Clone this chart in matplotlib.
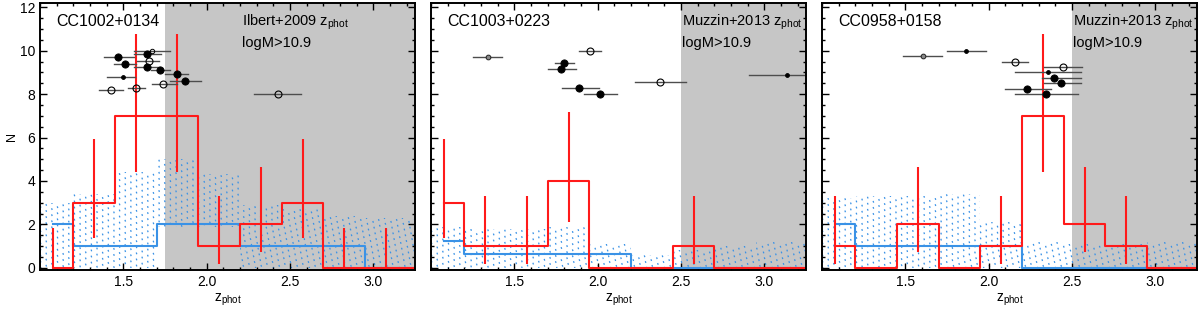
"""Three-panel z_phot histograms of cluster candidates with field band."""

import matplotlib
matplotlib.use("Agg")
import matplotlib.pyplot as plt
from matplotlib.ticker import MultipleLocator
import numpy as np

plt.rcParams["font.family"] = ["Liberation Sans", "DejaVu Sans"]

# --- data ------------------------------------------------------------------
bin_edges = [0.95, 1.2, 1.45, 1.7, 1.95, 2.2, 2.45, 2.7, 2.95, 3.2, 3.45]

names = ["CC1002+0134", "CC1003+0223", "CC0958+0158"]
catalogs = ["Ilbert+2009", "Muzzin+2013", "Muzzin+2013"]
shade_from = [1.75, 2.5, 2.5]

red_counts = [
    [0, 3, 7, 7, 1, 2, 3, 0, 0, 0],
    [3, 1, 1, 4, 0, 0, 1, 0, 0, 0],
    [1, 0, 2, 0, 1, 7, 2, 1, 0, 0],
]
nan = np.nan
red_err_lo = [
    [0, 1.37, 4.42, 4.42, 0.17, 0.71, 1.37, 0, 0, nan],
    [1.37, 0.17, 0.17, 2.09, nan, nan, 0.17, nan, nan, nan],
    [0.17, nan, 0.71, nan, 0.17, 4.42, 0.71, 0.17, nan, nan],
]
red_err_hi = [
    [1.85, 5.92, 10.77, 10.77, 3.3, 4.64, 5.92, 1.85, 1.85, nan],
    [5.92, 3.3, 3.3, 7.16, nan, nan, 3.3, nan, nan, nan],
    [3.3, nan, 4.64, nan, 3.3, 10.77, 4.64, 3.3, nan, nan],
]

blue_counts = [
    [2, 1, 1, 2, 2, 1, 1, 1, 0, 0],
    [1.25, 0.62, 0.62, 0.62, 0.62, 0, 0, 0, 0, 0],
    [2, 1, 1, 1, 1, 0, 0, 0, 0, 0],
]
band_hi = [
    [3.0, 3.4, 4.4, 5.0, 4.3, 2.9, 2.7, 2.4, 2.3, 2.3],
    [1.9, 1.8, 1.8, 1.9, 1.1, 0.6, 0.8, 1.0, 1.2, 1.2],
    [3.2, 3.3, 3.3, 3.4, 2.1, 1.2, 1.1, 1.1, 1.2, 1.2],
]
band_lo = [
    [0, 0, 0, 1.9, 1.9, 0, 0, 0, 0, 0],
    [0, 0, 0, 0, 0, 0, 0, 0, 0, 0],
    [0, 0, 0, 0, 0, 0, 0, 0, 0, 0],
]

# members: z, N position, z range, kind (F big filled, f small filled,
# O big open, o small open, g small grey)
pt_z = [
    [1.466, 1.51, 1.50, 1.428, 1.578, 1.64, 1.67, 1.654, 1.64, 1.72, 1.82,
     1.74, 1.871, 2.426],
    [1.34, 1.953, 1.80, 1.78, 1.89, 2.015, 2.376, 3.133],
    [1.603, 1.865, 2.155, 2.444, 2.353, 2.393, 2.432, 2.232, 2.343],
]
pt_y = [
    [9.71, 9.38, 8.78, 8.17, 8.30, 9.86, 10.0, 9.53, 9.25, 9.10, 8.93,
     8.48, 8.62, 8.0],
    [9.71, 10.0, 9.44, 9.14, 8.29, 8.0, 8.57, 8.87],
    [9.77, 10.0, 9.5, 9.26, 9.0, 8.75, 8.51, 8.26, 8.0],
]
pt_zlo = [
    [1.383, 1.446, 1.40, 1.356, 1.526, 1.566, 1.566, 1.58, 1.566, 1.666,
     1.75, 1.67, 1.78, 2.286],
    [1.253, 1.887, 1.744, 1.70, 1.787, 1.915, 2.226, 2.91],
    [1.486, 1.748, 2.08, 2.33, 2.155, 2.317, 2.33, 2.095, 2.155],
]
pt_zhi = [
    [1.566, 1.576, 1.57, 1.50, 1.63, 1.726, 1.78, 1.716, 1.72, 1.78,
     1.89, 1.82, 1.965, 2.564],
    [1.428, 2.02, 1.86, 1.867, 2.005, 2.117, 2.53, 3.35],
    [1.722, 1.982, 2.234, 2.56, 2.555, 2.555, 2.555, 2.373, 2.536],
]
pt_kind = [
    ["F", "F", "f", "O", "O", "F", "o", "O", "F", "F", "F", "O", "F", "O"],
    ["g", "O", "F", "F", "F", "F", "O", "f"],
    ["g", "f", "O", "O", "f", "F", "F", "F", "F"],
]

RED = "#ff1a1a"
BLUE = "#3a92e6"
GREY = "#c6c6c6"
XMIN, XMAX = 1.0, 3.25
YMIN, YMAX = -0.1, 12.2

marker_style = {
    "F": dict(ms=5.2, mfc="black", mec="black", mew=0.6),
    "f": dict(ms=2.8, mfc="black", mec="black", mew=0.6),
    "O": dict(ms=5.0, mfc="none", mec="black", mew=0.8),
    "o": dict(ms=3.2, mfc="none", mec="black", mew=0.7),
    "g": dict(ms=3.4, mfc="#8a8a8a", mec="#222222", mew=0.7),
}


def _draw_band(axis, lo, hi):
    """Fill the field band with dotted diagonal lines."""
    edges = np.asarray(bin_edges)
    lo_ext = list(lo) + [lo[-1]]
    hi_ext = list(hi) + [hi[-1]]
    poly = axis.fill_between(edges, lo_ext, hi_ext, step="post",
                             facecolor="none", edgecolor="none")
    clip_path = poly.get_paths()[0]
    slope = 2.6
    xs = np.array([XMIN, XMAX])
    for offset in np.arange(-7.0, 6.0, 0.28):
        (line,) = axis.plot(xs, offset + slope * (xs - XMIN), color=BLUE,
                            lw=1.3, linestyle=(0, (0.7, 2.6)), zorder=1)
        line.set_clip_path(clip_path, axis.transData)


def _draw_panel(axis, i):
    centers = 0.5 * (np.array(bin_edges[:-1]) + np.array(bin_edges[1:]))
    axis.axvspan(shade_from[i], XMAX, color=GREY, lw=0, zorder=0)
    _draw_band(axis, band_lo[i], band_hi[i])

    axis.step(centers, blue_counts[i], where="mid", color=BLUE, lw=1.5,
              zorder=2)
    axis.step(centers, red_counts[i], where="mid", color=RED, lw=1.5,
              zorder=3)
    axis.vlines(centers, red_err_lo[i], red_err_hi[i], color=RED, lw=1.5,
                zorder=3)

    for z, y, zlo, zhi, kind in zip(pt_z[i], pt_y[i], pt_zlo[i], pt_zhi[i],
                                    pt_kind[i]):
        axis.plot([zlo, zhi], [y, y], color="#4d4d4d", lw=1.0, zorder=4)
        axis.plot(z, y, "o", zorder=5, **marker_style[kind])

    label_x = 0.538 if i == 0 else 0.67
    axis.text(0.043, 0.929, names[i], transform=axis.transAxes,
              fontsize=11.5, va="center", ha="left")
    axis.text(label_x, 0.929, catalogs[i] + r" $\mathregular{z_{phot}}$",
              transform=axis.transAxes, fontsize=10.5, va="center", ha="left")
    axis.text(label_x, 0.85, "logM>10.9", transform=axis.transAxes,
              fontsize=10.5, va="center", ha="left")

    axis.set_xlim(XMIN, XMAX)
    axis.set_ylim(YMIN, YMAX)
    axis.xaxis.set_major_locator(MultipleLocator(0.5))
    axis.xaxis.set_minor_locator(MultipleLocator(0.1))
    axis.yaxis.set_major_locator(MultipleLocator(2))
    axis.yaxis.set_minor_locator(MultipleLocator(0.5))
    axis.tick_params(which="both", direction="in", top=True, right=True,
                     labelsize=10, width=1.0)
    axis.tick_params(which="major", length=5)
    axis.tick_params(which="minor", length=2.5)
    axis.set_xticks([1.5, 2.0, 2.5, 3.0])
    axis.set_xticklabels(["1.5", "2.0", "2.5", "3.0"])
    for spine in axis.spines.values():
        spine.set_linewidth(1.4)
        spine.set_zorder(6)
    axis.set_xlabel(r"$\mathregular{z_{phot}}$", fontsize=10, labelpad=2)
    if i == 0:
        axis.set_ylabel("N", fontsize=9)
        axis.yaxis.set_label_coords(-0.06, 0.5)
    else:
        axis.set_yticklabels([])


fig = plt.figure(figsize=(12, 3.09), dpi=100)
lefts = [40 / 1200, 431 / 1200, 822 / 1200]
for i, left in enumerate(lefts):
    ax = fig.add_axes([left, 39 / 309, 375 / 1200, 267 / 309])
    _draw_panel(ax, i)

fig.savefig("out.png", dpi=100)
